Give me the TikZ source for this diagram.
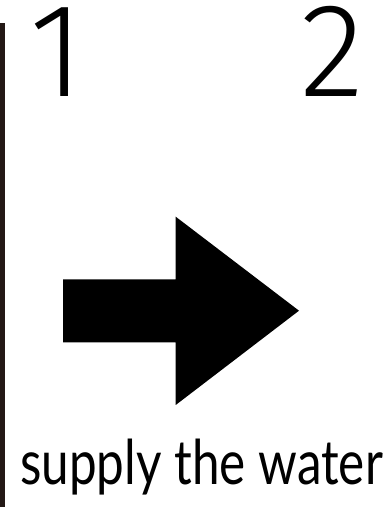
\documentclass[tikz,border=0pt]{standalone}
\usepackage{fontspec}
\setmainfont{Lato}
\newfontfamily\digitfont[UprightFont={* Light}]{Fira Sans}
\newfontfamily\captionfont{Lato}
\usepackage{tikz}
\definecolor{darkline}{HTML}{231815}
\begin{document}
\begin{tikzpicture}[
  x=1bp, y=1bp,
  digit/.style={inner sep=0pt, anchor=base, font=\digitfont\fontsize{134}{134}\selectfont},
  caption/.style={inner sep=0pt, anchor=base west, font=\captionfont\fontsize{62}{62}\selectfont},
  rule/.style={line width=4.5bp, draw=darkline},
  bigarrow/.style={fill=black, draw=none}
]
\useasboundingbox (0,0) rectangle (387,507);
\draw[rule] (2.25,0) -- (2.25,484);
\node[digit] (one) at (57.5,410) {1};
\node[digit] (two) at (332.5,410) {2};
\fill[bigarrow] (63,227.7) -- (175.7,227.7) -- (175.7,290.3) -- (299,196.3)
  -- (175.7,102) -- (175.7,164.7) -- (63,164.7) -- cycle;
\node[caption] (supply) at (20,22) {\scalebox{0.8}[1]{supply the water}};
\end{tikzpicture}
\end{document}
